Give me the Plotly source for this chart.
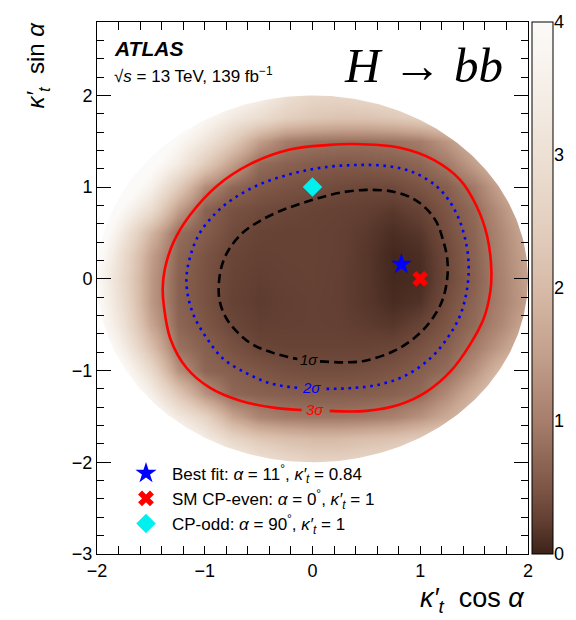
import numpy as np
import plotly.graph_objects as go

# ---------------- data ----------------
grid_x = [-2.0, -1.75, -1.5, -1.25, -1.0, -0.75, -0.5, -0.25, 0.0,
          0.25, 0.5, 0.75, 1.0, 1.25, 1.5, 1.75, 2.0]
grid_y = [-2.0, -1.75, -1.5, -1.25, -1.0, -0.75, -0.5, -0.25, 0.0,
          0.25, 0.5, 0.75, 1.0, 1.25, 1.5, 1.75, 2.0]
# colour-scale value on the grid, rows = grid_y (bottom -> top), cols = grid_x
z_rows = [
    [7.5, 6.5, 5.5, 4.8, 4.2, 3.6, 3.1, 2.8, 2.6, 2.6, 2.7, 2.8, 3.0, 3.2, 3.5, 3.8, 4.1],
    [7.0, 6.0, 5.0, 4.2, 3.4, 2.7, 2.3, 2.1, 2.0, 2.0, 2.1, 2.2, 2.4, 2.6, 2.9, 3.2, 3.5],
    [6.3, 5.2, 4.2, 3.3, 2.6, 1.6, 1.1, 0.95, 0.9, 0.9, 0.95, 1.05, 1.3, 1.7, 2.2, 2.7, 3.2],
    [5.8, 4.6, 3.5, 2.3, 1.3, 0.72, 0.65, 0.6, 0.58, 0.58, 0.6, 0.65, 0.75, 1.2, 1.8, 2.4, 2.9],
    [5.2, 4.0, 2.8, 1.3, 0.7, 0.6, 0.5, 0.43, 0.4, 0.4, 0.42, 0.48, 0.6, 0.78, 1.3, 2.0, 2.5],
    [4.6, 3.4, 2.1, 0.85, 0.62, 0.45, 0.33, 0.3, 0.3, 0.3, 0.3, 0.33, 0.45, 0.62, 0.95, 1.45, 2.0],
    [4.2, 3.0, 1.6, 0.7, 0.5, 0.34, 0.25, 0.26, 0.27, 0.26, 0.22, 0.18, 0.3, 0.5, 0.75, 1.15, 1.7],
    [4.0, 2.8, 1.4, 0.65, 0.45, 0.28, 0.22, 0.25, 0.27, 0.25, 0.18, 0.08, 0.14, 0.42, 0.68, 1.05, 1.5],
    [3.9, 2.7, 1.4, 0.65, 0.45, 0.3, 0.24, 0.27, 0.28, 0.25, 0.18, 0.05, 0.08, 0.35, 0.62, 1.05, 1.55],
    [4.2, 2.8, 1.5, 0.7, 0.47, 0.32, 0.27, 0.28, 0.28, 0.26, 0.18, 0.04, 0.1, 0.36, 0.65, 1.1, 1.6],
    [4.5, 3.2, 1.9, 0.8, 0.58, 0.38, 0.3, 0.28, 0.28, 0.26, 0.2, 0.1, 0.18, 0.42, 0.68, 1.15, 1.7],
    [5.0, 3.8, 2.9, 1.5, 0.65, 0.45, 0.38, 0.34, 0.3, 0.28, 0.25, 0.2, 0.3, 0.5, 0.75, 1.3, 1.9],
    [5.5, 4.5, 3.6, 2.4, 1.2, 0.72, 0.54, 0.47, 0.42, 0.38, 0.35, 0.37, 0.48, 0.62, 0.95, 1.6, 2.3],
    [6.0, 5.0, 4.2, 3.4, 2.4, 1.5, 0.78, 0.65, 0.58, 0.55, 0.56, 0.6, 0.7, 0.95, 1.5, 2.1, 2.7],
    [6.5, 5.5, 4.6, 3.9, 3.2, 2.4, 1.5, 1.0, 0.88, 0.84, 0.84, 0.88, 1.0, 1.4, 1.9, 2.4, 2.9],
    [7.0, 6.0, 5.0, 4.5, 3.9, 3.3, 2.9, 2.5, 2.3, 2.2, 2.2, 2.3, 2.5, 2.7, 3.0, 3.3, 3.6],
    [7.5, 6.5, 5.5, 5.0, 4.5, 4.0, 3.6, 3.0, 2.7, 2.7, 2.8, 3.0, 3.2, 3.4, 3.7, 4.0, 4.3],
]
scan_radius = 2.0  # kappa'_t scan boundary

# contour lines (open at the label position)
sig1_x = [0.07, 0.32, 0.50, 0.75, 0.94, 1.09, 1.20, 1.25, 1.25, 1.21, 1.15, 1.06, 0.94, 0.75,
          0.50, 0.26, 0.07, -0.12, -0.30, -0.49, -0.64, -0.77, -0.84, -0.87, -0.86, -0.80,
          -0.69, -0.55, -0.36, -0.14]
sig1_y = [-0.90, -0.91, -0.89, -0.79, -0.65, -0.47, -0.25, 0.00, 0.22, 0.43, 0.62, 0.76, 0.87,
          0.95, 0.97, 0.94, 0.885, 0.815, 0.74, 0.63, 0.51, 0.33, 0.15, -0.07, -0.25, -0.43,
          -0.59, -0.72, -0.81, -0.875]
sig2_x = [0.13, 0.38, 0.63, 0.87, 1.09, 1.25, 1.37, 1.43, 1.45, 1.43, 1.37, 1.28, 1.15, 0.94,
          0.69, 0.38, 0.07, -0.21, -0.49, -0.74, -0.92, -1.06, -1.14, -1.17, -1.15, -1.09,
          -0.98, -0.83, -0.61, -0.39, -0.13]
sig2_y = [-1.20, -1.19, -1.15, -1.05, -0.87, -0.65, -0.40, -0.14, 0.11, 0.36, 0.62, 0.83, 1.01,
          1.16, 1.23, 1.24, 1.21, 1.14, 1.03, 0.87, 0.69, 0.47, 0.22, 0.00, -0.22, -0.43,
          -0.65, -0.87, -1.03, -1.14, -1.19]
sig3_x = [0.16, 0.50, 0.81, 1.06, 1.28, 1.46, 1.59, 1.65, 1.66, 1.62, 1.52, 1.37, 1.12, 0.81,
          0.38, 0.16, -0.21, -0.58, -0.89, -1.14, -1.29, -1.37, -1.39, -1.38, -1.32, -1.17,
          -0.95, -0.67, -0.33, -0.10]
sig3_y = [-1.44, -1.44, -1.37, -1.23, -1.01, -0.72, -0.43, -0.14, 0.09, 0.47, 0.80, 1.08, 1.30,
          1.43, 1.47, 1.46, 1.41, 1.25, 1.01, 0.69, 0.40, 0.11, -0.10, -0.29, -0.65, -0.97,
          -1.19, -1.33, -1.41, -1.43]
label_text = ["1σ", "2σ", "3σ"]
label_x = [-0.035, -0.005, 0.025]
label_y = [-0.875, -1.18, -1.425]

point_names = ["Best fit: <i>α</i> = 11<sup>°</sup>, <i>κ′</i><sub><i>t</i></sub> = 0.84",
               "SM CP-even: <i>α</i> = 0<sup>°</sup>, <i>κ′</i><sub><i>t</i></sub> = 1",
               "CP-odd: <i>α</i> = 90<sup>°</sup>, <i>κ′</i><sub><i>t</i></sub> = 1"]
point_x = [0.825, 1.0, 0.0]
point_y = [0.16, 0.0, 1.0]

cbar_ticks = [0, 1, 2, 3, 4]

# ---------------- style ----------------
FONT = "Liberation Sans, Arial, Helvetica, sans-serif"
colorscale = [
    [0.0, "#3d2219"], [0.0625, "#623f32"], [0.125, "#7e5646"], [0.25, "#a67e6b"],
    [0.375, "#c3a08c"], [0.5, "#d7bba8"], [0.625, "#e4d0c0"], [0.75, "#ede0d4"],
    [0.875, "#f6efe8"], [1.0, "#fcfaf8"],
]

W, H = 576, 620
ML, MR, MT, MB = 97, 23, 18, 66
plot_w = 431
paper_w = W - ML - MR
paper_h = H - MT - MB


def px(xp):
    return (xp - ML) / paper_w


def py(yp):
    return (H - MB - yp) / paper_h


fig = go.Figure()

fig.add_trace(go.Heatmap(
    x=grid_x, y=grid_y, z=z_rows, zsmooth="best", zmin=0, zmax=4,
    colorscale=colorscale, hoverinfo="skip",
    colorbar=dict(thickness=21, thicknessmode="pixels", len=1, lenmode="fraction",
                  x=px(532), xanchor="left", y=0.5, yanchor="middle", xpad=0, ypad=0,
                  outlinewidth=1, outlinecolor="black", showticklabels=False, ticks=""),
))

# white mask outside the scanned region
ang = np.linspace(0, -2 * np.pi, 361)
mask_x = list(scan_radius * np.cos(ang)) + [2.3, 2.3, -2.3, -2.3, 2.3, 2.3]
mask_y = list(scan_radius * np.sin(ang)) + [0, 3.1, 3.1, -3.3, -3.3, 0]
fig.add_trace(go.Scatter(x=mask_x, y=mask_y, mode="lines", fill="toself",
                         fillcolor="white", line=dict(width=0, color="white"),
                         showlegend=False, hoverinfo="skip"))

for cx, cy, col, dash in [(sig3_x, sig3_y, "#ff0000", "solid"),
                          (sig2_x, sig2_y, "#0000ff", "2.6px,4.7px"),
                          (sig1_x, sig1_y, "#000000", "9px,5px")]:
    fig.add_trace(go.Scatter(x=cx, y=cy, mode="lines",
                             line=dict(color=col, width=2.6, dash=dash, shape="spline", smoothing=1),
                             showlegend=False, hoverinfo="skip"))

symbols = ["star", "x", "diamond"]
colors = ["#0000ff", "#ff0000", "#00f0f0"]
sizes = [16, 14, 15]
for i in range(3):
    fig.add_trace(go.Scatter(x=[point_x[i]], y=[point_y[i]], mode="markers", name=point_names[i],
                             marker=dict(symbol=symbols[i], color=colors[i], size=sizes[i],
                                         line=dict(width=0))))

# dummy trace for colour-bar axis
fig.add_trace(go.Scatter(x=[None], y=[None], yaxis="y2", showlegend=False, hoverinfo="skip"))

annotations = [
    dict(text="<b><i>ATLAS</i></b>", x=px(112), y=py(45), xref="paper", yref="paper",
         xanchor="left", yanchor="middle", showarrow=False, font=dict(size=21, family=FONT)),
    dict(text="√<i>s</i> = 13 TeV, 139 fb<sup>−1</sup>", x=px(112), y=py(71), xref="paper",
         yref="paper", xanchor="left", yanchor="middle", showarrow=False,
         font=dict(size=17, family=FONT)),
    dict(text="<i>H</i> → <i>bb</i>", x=px(423), y=py(62), xref="paper", yref="paper",
         xanchor="center", yanchor="middle", showarrow=False,
         font=dict(size=49, family="Liberation Serif, Times New Roman, serif")),
    dict(text="<i>κ′</i><sub><i>t</i></sub>  cos <i>α</i>", x=px(527), y=py(600), xref="paper",
         yref="paper", xanchor="right", yanchor="middle", showarrow=False,
         font=dict(size=27, family=FONT)),
    dict(text="<i>κ′</i><sub><i>t</i></sub>  sin <i>α</i>", x=px(38), y=py(15), xref="paper",
         yref="paper", xanchor="center", yanchor="top", textangle=-90, showarrow=False,
         font=dict(size=24, family=FONT)),
]
for t, lx, ly, col in zip(label_text, label_x, label_y, ["#000000", "#0000ff", "#ff0000"]):
    annotations.append(dict(text=f"<i>{t}</i>", x=lx, y=ly, xref="x", yref="y",
                            showarrow=False, font=dict(size=15, family=FONT, color=col)))

axis_common = dict(showline=True, linecolor="black", linewidth=1, mirror="allticks",
                   ticks="inside", tickcolor="black", showgrid=False, zeroline=False,
                   tickfont=dict(size=18, family=FONT, color="black"))

fig.update_layout(
    width=W, height=H, margin=dict(l=ML, r=MR, t=MT, b=MB),
    paper_bgcolor="white", plot_bgcolor="white",
    font=dict(family=FONT, color="black"),
    xaxis=dict(range=[-2, 2], domain=[0, plot_w / paper_w], dtick=1, tick0=0, ticklen=8,
               minor=dict(dtick=0.2, ticklen=4, ticks="inside", tickcolor="black"),
               **axis_common),
    yaxis=dict(range=[-3, 2.8], dtick=1, tick0=0, ticklen=14,
               minor=dict(dtick=0.2, ticklen=7, ticks="inside", tickcolor="black"),
               **axis_common),
    yaxis2=dict(range=[0, 4], overlaying="y", anchor="free", position=1.0, side="right",
                ticks="inside", ticklen=10, tickcolor="black", tickvals=cbar_ticks,
                showgrid=False, zeroline=False, showline=False,
                minor=dict(dtick=0.2, ticklen=5, ticks="inside", tickcolor="#555"),
                tickfont=dict(size=18, family=FONT, color="black")),
    legend=dict(x=px(120), y=py(455), xanchor="left", yanchor="top", bgcolor="rgba(0,0,0,0)",
                font=dict(size=17, family=FONT), tracegroupgap=0, itemsizing="trace",
                itemwidth=42),
    annotations=annotations,
)

fig.write_html("out.html")
